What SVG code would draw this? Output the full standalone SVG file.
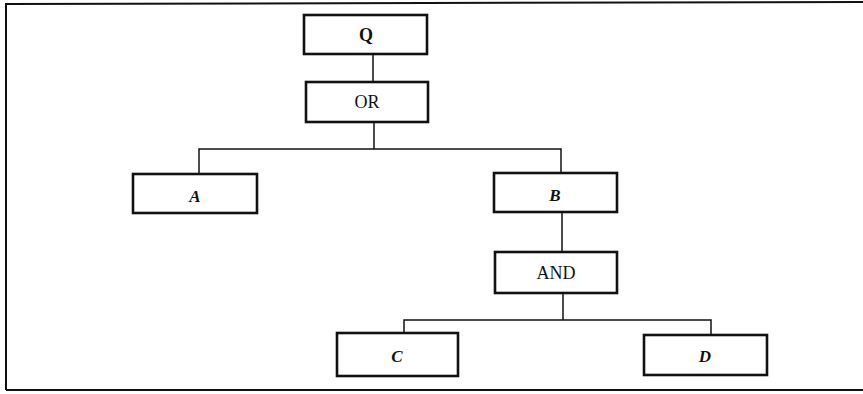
<svg xmlns="http://www.w3.org/2000/svg" width="863" height="394" viewBox="0 0 863 394">
<style>
.box{fill:#fff;stroke:#111;stroke-width:2.6}
.conn{fill:none;stroke:#111;stroke-width:1.5}
.frame{fill:none;stroke:#111;stroke-width:2}
.t{font-family:"Liberation Serif","Times New Roman",serif;font-size:18px;fill:#111;text-anchor:middle;dominant-baseline:central}
.v{font-family:"Liberation Serif","Times New Roman",serif;font-size:17px;font-style:italic;font-weight:bold;fill:#111;text-anchor:middle;dominant-baseline:central}
</style>
<rect width="863" height="394" fill="#fff"/>
<g id="frame">
<path class="frame" d="M6,390 L6,4 L863,2"/>
<path class="frame" d="M6,390 L863,390"/>
</g>
<g id="connectors">
<path class="conn" d="M373,54 L373,82"/>
<path class="conn" d="M374,122 L374,149"/>
<path class="conn" d="M199,174 L199,149 L561,149 L561,173"/>
<path class="conn" d="M562,212 L562,252"/>
<path class="conn" d="M563,293 L563,320"/>
<path class="conn" d="M404,333 L404,320 L711,320 L711,335"/>
</g>
<g id="Q"><rect class="box" x="304" y="15" width="123" height="39"/><text class="t" x="366" y="35" font-weight="bold">Q</text></g>
<g id="OR"><rect class="box" x="306" y="82" width="122" height="40"/><text class="t" x="367" y="102">OR</text></g>
<g id="A"><rect class="box" x="133" y="174" width="124" height="39"/><text class="v" x="195" y="196">A</text></g>
<g id="B"><rect class="box" x="494" y="173" width="123" height="39"/><text class="v" x="555" y="195">B</text></g>
<g id="AND"><rect class="box" x="495" y="252" width="122" height="41"/><text class="t" x="556" y="273">AND</text></g>
<g id="C"><rect class="box" x="337" y="333" width="121" height="43"/><text class="v" x="397" y="356">C</text></g>
<g id="D"><rect class="box" x="644" y="335" width="123" height="40"/><text class="v" x="705" y="356">D</text></g>
</svg>
